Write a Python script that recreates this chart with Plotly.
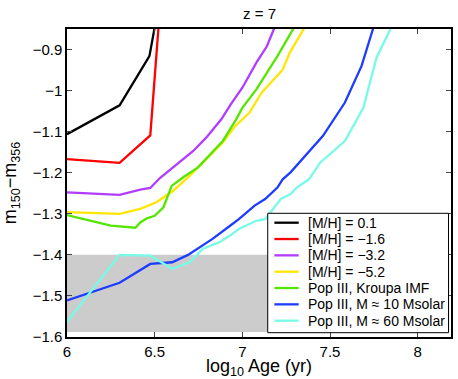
import plotly.graph_objects as go

# ---- data ----
black_x = [6.0, 6.3, 6.47, 6.52]
black_y = [-1.106, -1.036, -0.916, -0.80]

red_x = [6.0, 6.3, 6.475, 6.52, 6.53]
red_y = [-1.167, -1.176, -1.109, -0.85, -0.80]

purple_x = [6.0, 6.3, 6.418, 6.475, 6.53, 6.606, 6.66, 6.72, 6.795, 6.88, 6.93, 7.0, 7.08, 7.14, 7.18, 7.2]
purple_y = [-1.248, -1.254, -1.241, -1.237, -1.213, -1.187, -1.168, -1.147, -1.114, -1.070, -1.036, -0.993, -0.932, -0.892, -0.850, -0.82]

yellow_x = [6.0, 6.3, 6.418, 6.51, 6.606, 6.70, 6.795, 6.89, 6.96, 7.04, 7.11, 7.20, 7.23, 7.27, 7.35, 7.37]
yellow_y = [-1.296, -1.300, -1.288, -1.272, -1.244, -1.207, -1.167, -1.126, -1.086, -1.054, -1.005, -0.961, -0.949, -0.908, -0.850, -0.83]

green_x = [6.0, 6.1, 6.25, 6.39, 6.418, 6.456, 6.50, 6.55, 6.597, 6.663, 6.747, 6.80, 6.89, 6.965, 7.0, 7.08, 7.20, 7.29, 7.31]
green_y = [-1.303, -1.313, -1.329, -1.334, -1.321, -1.311, -1.305, -1.284, -1.232, -1.211, -1.187, -1.163, -1.122, -1.070, -1.042, -0.997, -0.916, -0.850, -0.83]

blue_x = [6.0, 6.3, 6.475, 6.60, 6.69, 6.83, 6.93, 6.98, 7.07, 7.13, 7.20, 7.23, 7.275, 7.35, 7.46, 7.585, 7.68, 7.745, 7.76]
blue_y = [-1.511, -1.468, -1.422, -1.418, -1.400, -1.361, -1.329, -1.313, -1.280, -1.264, -1.236, -1.216, -1.199, -1.163, -1.110, -1.029, -0.940, -0.850, -0.83]

cyan_x = [6.0, 6.3, 6.475, 6.60, 6.70, 6.775, 6.87, 6.93, 6.98, 7.08, 7.13, 7.22, 7.275, 7.31, 7.38, 7.445, 7.585, 7.69, 7.765, 7.845, 7.86]
cyan_y = [-1.563, -1.400, -1.402, -1.434, -1.418, -1.385, -1.369, -1.353, -1.337, -1.317, -1.313, -1.264, -1.252, -1.236, -1.216, -1.175, -1.123, -1.042, -0.920, -0.850, -0.83]

names = ["[M/H] = 0.1", "[M/H] = −1.6", "[M/H] = −3.2", "[M/H] = −5.2",
         "Pop III, Kroupa IMF", "Pop III, M ≈ 10 Msolar", "Pop III, M ≈ 60 Msolar"]
colors = ["#000000", "#ff0000", "#b23cff", "#ffe600", "#55e600", "#1e3cff", "#78fae6"]
xs_all = [black_x, red_x, purple_x, yellow_x, green_x, blue_x, cyan_x]
ys_all = [black_y, red_y, purple_y, yellow_y, green_y, blue_y, cyan_y]

band_x = [6.0, 8.18]
band_y = [-1.588, -1.4]

x_ticks = [6, 6.5, 7, 7.5, 8]
y_ticks = [-1.6, -1.5, -1.4, -1.3, -1.2, -1.1, -1.0, -0.9]

# ---- layout geometry (pixels) ----
W, H = 458, 379
ML, MR, MT, MB = 66, 5, 29, 42
PW, PH = W - ML - MR, H - MT - MB


def px2paper_x(px):
    return (px - ML) / PW


def px2paper_y(py):
    return (H - MB - py) / PH


fig = go.Figure()
for name, xs, ys, col in zip(names, xs_all, ys_all, colors):
    fig.add_trace(go.Scatter(x=xs, y=ys, mode="lines", name=name, showlegend=False,
                             line=dict(color=col, width=2.3)))

fig.add_shape(type="rect", xref="x", yref="y", x0=band_x[0], x1=band_x[1],
              y0=band_y[0], y1=band_y[1], fillcolor="#cccccc",
              line=dict(width=0), layer="below")

# ---- custom legend box ----
leg_x0, leg_x1, leg_y0, leg_y1 = 268.3, 450.5, 213.3, 332.7
fig.add_shape(type="rect", xref="paper", yref="paper",
              x0=px2paper_x(leg_x0), x1=px2paper_x(leg_x1),
              y0=px2paper_y(leg_y1), y1=px2paper_y(leg_y0),
              fillcolor="white", line=dict(color="black", width=1), layer="above")
row0, row_step = 222.7, 16.33
for i, (name, col) in enumerate(zip(names, colors)):
    yc = row0 + i * row_step
    fig.add_shape(type="line", xref="paper", yref="paper",
                  x0=px2paper_x(275), x1=px2paper_x(299.5),
                  y0=px2paper_y(yc), y1=px2paper_y(yc),
                  line=dict(color=col, width=2.3), layer="above")
    fig.add_annotation(text=name, xref="paper", yref="paper",
                       x=px2paper_x(306.5), y=px2paper_y(yc),
                       xanchor="left", yanchor="middle", showarrow=False,
                       font=dict(size=14, color="black"))

font_family = "Liberation Sans, Arial, sans-serif"
fig.update_layout(
    width=W, height=H,
    margin=dict(l=ML, r=MR, t=MT, b=MB),
    paper_bgcolor="white", plot_bgcolor="white",
    font=dict(family=font_family, size=15, color="black"),
    title=dict(text="z = 7", x=259.5 / W, xanchor="center", y=1 - 13.5 / H, yanchor="middle",
               font=dict(size=15)),
    showlegend=False,
    xaxis=dict(range=[6, 8.19], tickvals=x_ticks, ticks="inside", ticklen=5,
               showline=True, linecolor="black", linewidth=1.5, mirror="ticks",
               showgrid=False, zeroline=False,
               title=dict(text="log<sub>10</sub> Age (yr)", standoff=0)),
    yaxis=dict(range=[-1.6, -0.85], tickvals=y_ticks, ticks="inside", ticklen=5,
               showline=True, linecolor="black", linewidth=1.5, mirror="ticks",
               showgrid=False, zeroline=False,
               title=dict(text="m<sub>150</sub>−m<sub>356</sub>", standoff=15)),
)

fig.write_html("out.html", config={"displayModeBar": False},
               post_script="document.body.style.margin='0';")
